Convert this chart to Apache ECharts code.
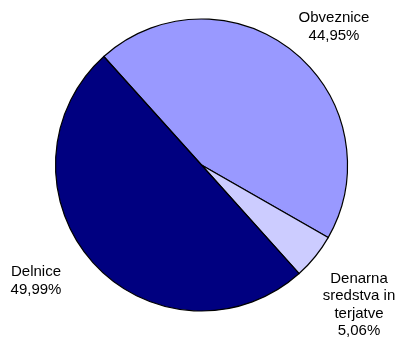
<!DOCTYPE html>
<html>
<head>
<meta charset="utf-8">
<script src="https://cdn.jsdelivr.net/npm/echarts@6/dist/echarts.min.js"></script>
<style>html,body{margin:0;padding:0;background:#fff;}#c{width:398px;height:343px;}</style>
</head>
<body>
<div id="c"></div>
<script>
var categories = ['Obveznice', 'Denarna\nsredstva in\nterjatve', 'Delnice'];
var values = [44.95, 5.06, 49.99];
var colors = ['#9999FF', '#CCCCFF', '#000080'];
var labelPos = [[334, 27], [359, 305], [36, 281]];

var chart = echarts.init(document.getElementById('c'), null, {renderer: 'canvas'});
chart.setOption({
  animation: false,
  backgroundColor: '#ffffff',
  series: [{
    type: 'pie',
    center: [201.5, 165],
    radius: 146,
    startAngle: 132,
    clockwise: true,
    avoidLabelOverlap: false,
    data: categories.map(function (c, i) {
      return {name: c, value: values[i], itemStyle: {color: colors[i]}};
    }),
    itemStyle: {borderColor: '#000000', borderWidth: 1.2},
    label: {
      show: true,
      position: 'outside',
      color: '#000000',
      fontFamily: 'Liberation Sans, Arial, sans-serif',
      fontSize: 15,
      lineHeight: 17.5,
      align: 'center',
      formatter: function (p) {
        return p.name + '\n' + p.value.toFixed(2).replace('.', ',') + '%';
      }
    },
    labelLine: {show: false},
    labelLayout: function (params) {
      var pos = labelPos[params.dataIndex];
      return {x: pos[0], y: pos[1], align: 'center', verticalAlign: 'middle'};
    },
    emphasis: {disabled: true}
  }]
});
</script>
</body>
</html>
